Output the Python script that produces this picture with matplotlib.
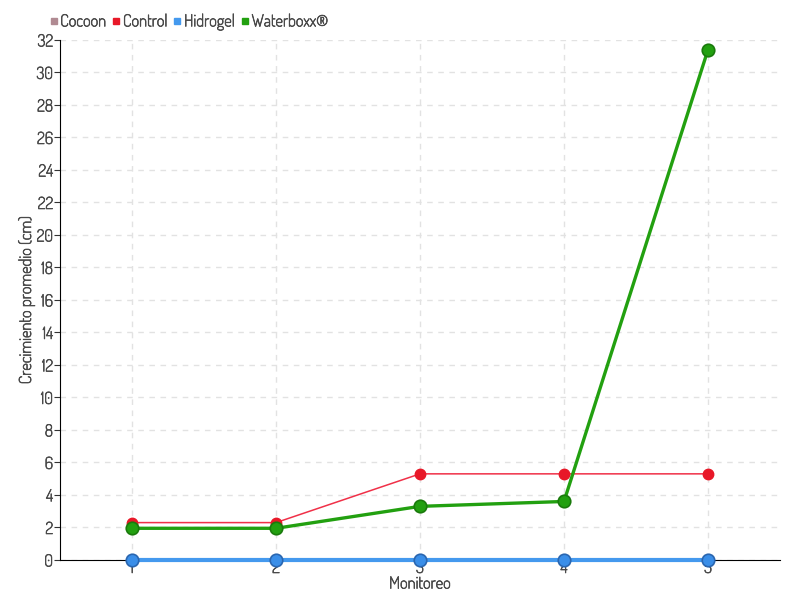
import matplotlib
matplotlib.use('Agg')
import matplotlib.pyplot as plt
import matplotlib.patheffects as pe
from matplotlib.lines import Line2D

monitoreo = [1, 2, 3, 4, 5]
cocoon = [0, 0, 0, 0, 0]
control = [2.3, 2.3, 5.3, 5.3, 5.3]
hidrogel = [0, 0, 0, 0, 0]
waterboxx = [1.95, 1.95, 3.3, 3.6, 31.4]
y_ticks = list(range(0, 33, 2))

plt.rcParams['font.family'] = ['Dosis', 'DejaVu Sans']
txt = '#4a4a4a'
bold = [pe.withStroke(linewidth=0.5, foreground=txt)]

fig = plt.figure(figsize=(8, 6), dpi=100)
ax = fig.add_axes([0.075, 0.0667, 0.9, 0.8667])

ax.plot(monitoreo, cocoon, color='#b08a92', lw=1, marker='o', ms=7,
        zorder=2, clip_on=False)
ax.plot(monitoreo, control, color='#f03048', lw=1.1, marker='o', ms=7.5,
        mfc='#e81828', mec='#e81828', zorder=3, clip_on=False)
ax.plot(monitoreo, hidrogel, color='#4499ee', lw=3, marker='o', ms=9,
        mfc='#3a8ee8', mec='#2a66b0', mew=1.2, zorder=4, clip_on=False)
ax.plot(monitoreo, waterboxx, color='#22a010', lw=2.4, marker='o', ms=9,
        mfc='#22a010', mec='#1a7a0c', mew=1.2, zorder=5, clip_on=False)

ax.set_xlim(0.5, 5.5)
ax.set_ylim(0, 32)
ax.set_xticks(monitoreo)
ax.set_yticks(y_ticks)
ax.grid(True, ls=(0, (4, 4)), color='#e2e2e2', lw=1)
ax.set_axisbelow(True)
for s in ['top', 'right']:
    ax.spines[s].set_visible(False)
ax.spines['left'].set_color('black')
ax.spines['bottom'].set_color('black')
ax.tick_params(axis='y', length=4, colors='#333333', labelsize=12, labelcolor=txt, pad=1)
ax.tick_params(axis='x', length=0, colors=txt, labelsize=12, pad=0)
ax.set_xlabel('Monitoreo', color=txt, fontsize=12, labelpad=-1, path_effects=bold)
ax.set_ylabel('Crecimiento promedio (cm)', color=txt, fontsize=12, labelpad=1,
              path_effects=bold)
for lab in ax.get_xticklabels() + ax.get_yticklabels():
    lab.set_path_effects(bold)

handles = [Line2D([], [], ls='', marker='s', ms=4.5, color=c)
           for c in ['#b08a92', '#e81828', '#4499ee', '#22a010']]
leg = fig.legend(handles, ['Cocoon', 'Control', 'Hidrogel', 'Waterboxx®'],
                 loc='upper left', bbox_to_anchor=(0.044, 0.997), ncol=4, frameon=False,
                 fontsize=12, labelcolor=txt, handletextpad=0.0, columnspacing=0.2,
                 handlelength=0.8, borderaxespad=0.3)
for t in leg.get_texts():
    t.set_path_effects(bold)

fig.savefig('out.png', dpi=100)
